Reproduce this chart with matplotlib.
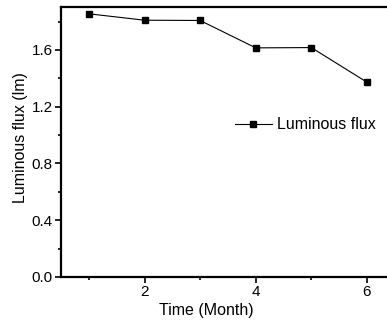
import matplotlib
matplotlib.use("Agg")
import matplotlib.pyplot as plt
from matplotlib.ticker import MultipleLocator

months = [1, 2, 3, 4, 5, 6]
flux = [1.855, 1.81, 1.808, 1.615, 1.617, 1.373]

plt.rcParams["font.family"] = ["Liberation Sans", "DejaVu Sans"]
plt.rcParams["font.size"] = 11

fig = plt.figure(figsize=(3.87, 3.27), dpi=100)
ax = fig.add_axes([0.158, 0.153, 1.02 - 0.158, 0.979 - 0.153])

ax.plot(months, flux, color="black", lw=0.8, marker="s", ms=4.5,
        label="Luminous flux")

ax.set_xlim(0.5, 6.5)
ax.set_ylim(0.0, 1.904)
ax.xaxis.set_major_locator(MultipleLocator(2))
ax.xaxis.set_minor_locator(MultipleLocator(1))
ax.yaxis.set_major_locator(MultipleLocator(0.4))
ax.yaxis.set_minor_locator(MultipleLocator(0.2))
ax.yaxis.set_major_formatter(matplotlib.ticker.FormatStrFormatter("%.1f"))

for s in ["left", "bottom", "top"]:
    ax.spines[s].set_linewidth(1.6)
ax.spines["right"].set_visible(False)
ax.tick_params(which="major", length=4, width=1.2, direction="out", pad=2,
               labelsize=11)
ax.tick_params(which="minor", length=2.5, width=1.2, direction="out")

ax.set_xlabel("Time (Month)", fontsize=11.5)
ax.set_ylabel("Luminous flux (lm)", fontsize=11.5)
ax.xaxis.set_label_coords(0.436, -0.098)
ax.yaxis.set_label_coords(-0.1, 0.517)

ax.legend(loc="center right", bbox_to_anchor=(0.944, 0.563), frameon=False,
          fontsize=11.5, handlelength=2.3, handletextpad=0.35,
          borderaxespad=0, borderpad=0)

fig.savefig("out.png", dpi=100)
